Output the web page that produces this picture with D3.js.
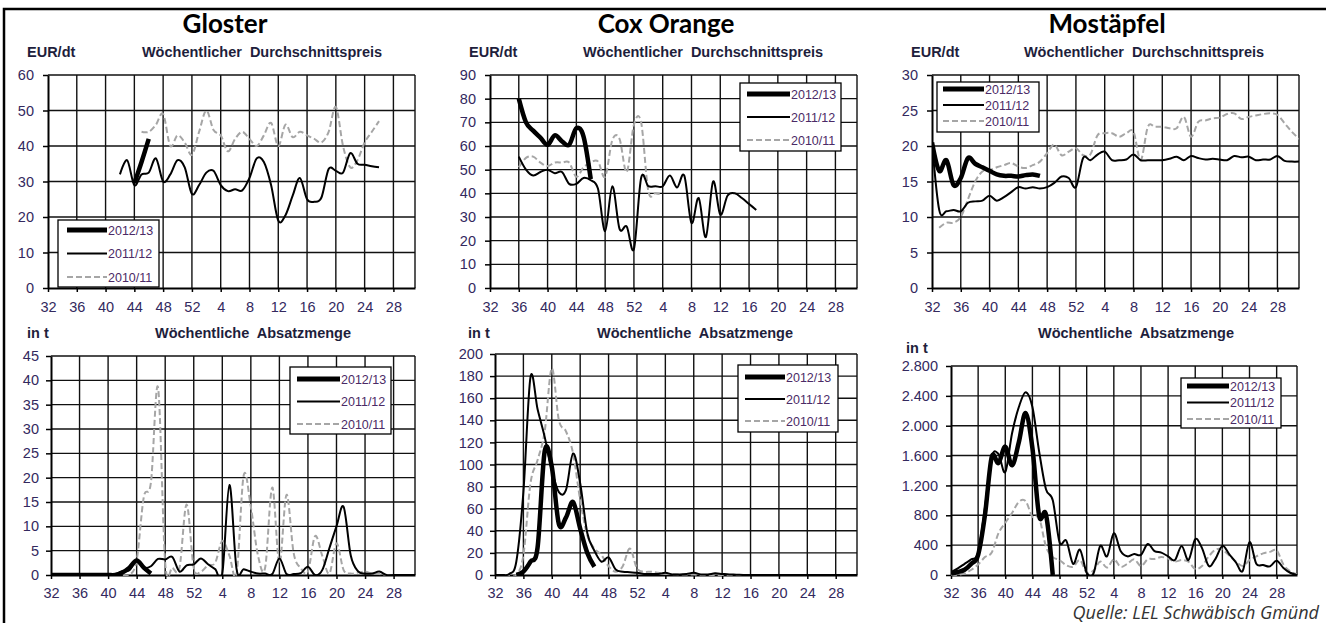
<!DOCTYPE html>
<html>
<head>
<meta charset="utf-8">
<script src="https://cdn.jsdelivr.net/npm/d3@7"></script>
<style>
    body { margin: 0; background: #fff; }
    text { font-family: "Liberation Sans", Arial, sans-serif; }
</style>
</head>
<body>
<script>
    // x axis: continuous week index, 53 = KW 1 of the next year
    var weekDomain = [32, 83]
    var weekTicks = [32, 36, 40, 44, 48, 52, 56, 60, 64, 68, 72, 76, 80]
    var weekLabels = ['32', '36', '40', '44', '48', '52', '4', '8', '12', '16', '20', '24', '28']
    var seasons = ['2012/13', '2011/12', '2010/11']
    var varieties = ['Gloster', 'Cox Orange', 'Mostäpfel']

    // Gloster, Preis EUR/dt (start week, weekly values)
    var glPreis1213 = [44, [29.5, 35.5, 42]]
    var glPreis1112 = [42, [32, 36, 29, 32, 32.5, 36.5, 30, 32, 36, 34, 26.5, 29, 32.5, 33, 29, 27.3, 27.8, 27.5, 31,
        36.5, 35.5, 29, 19, 20.5, 26, 31, 25, 24.3, 25.5, 33.5, 33, 32.5, 38, 35, 34.7, 34.3, 34]]
    var glPreis1011 = [45, [44, 44, 46, 49, 40, 43, 41, 37.5, 44, 50, 44.5, 43, 38.5, 42, 44, 42, 40, 43, 46.5, 40,
        46, 42.5, 44, 43, 42, 41, 44, 51, 40, 34, 36, 41, 44, 47]]

    // Gloster, Menge in t
    var glMenge1213 = [32, [0, 0, 0, 0, 0, 0, 0, 0, 0, 0, 0.5, 1.5, 3, 1.5, 0.3]]
    var glMenge1112 = [32, [0, 0, 0, 0, 0, 0, 0, 0, 0, 0.2, 0.8, 1, 3, 1.5, 1.8, 3.3, 3.2, 3.7, 0.7, 2, 2.2, 3.4, 2.2,
        1.2, 0.3, 18.5, 1.2, 1.2, 0.7, 0.3, 0.3, 0.2, 3.4, 0.2, 0.2, 0.4, 1.7, 0, 1, 5.5, 10, 14, 4, 0.8, 0.3, 0.3,
        0.7, 0, 0, 0, 0, 0]]
    var glMenge1011 = [32, [0, 0, 0, 0, 0, 0, 0, 0, 0, 0, 0, 0, 3, 16, 19, 38.5, 2.5, 1.5, 1.5, 14.5, 1.5, 0.7, 2,
        2.5, 7, 4, 0.3, 20.5, 14, 4, 1.5, 18, 2.4, 16.5, 4.5, 1.4, 0.7, 8, 4, 0.3, 6.5, 1, 0.3, 0.5, 0.7, 0.3, 0.2,
        0, 0, 0, 0, 0]]

    // Cox Orange, Preis EUR/dt
    var coxPreis1213 = [36, [80, 70, 66.5, 63.5, 60.5, 64.5, 62, 60.5, 67.5, 64, 46]]
    var coxPreis1112 = [36, [55.5, 50, 47.5, 49, 50, 48.5, 49, 44, 44, 46.5, 45.5, 42, 24, 43, 25, 26, 16.5, 46.5,
        43, 43, 43, 47.5, 42.5, 47.5, 27.5, 38, 21.5, 45, 31, 39, 40, 38, 35.5, 33]]
    var coxPreis1011 = [36, [51, 55, 55.5, 53, 51.5, 53, 53, 53, 47, 51, 53, 53.5, 47, 62.5, 63, 49, 69, 70, 41, 40,
        39.5]]

    // Cox Orange, Menge in t
    var coxMenge1213 = [35, [0, 3, 12, 25, 112, 98, 46, 52, 66, 42, 20, 7.5]]
    var coxMenge1112 = [32, [0, 0, 1, 12, 75, 179, 150, 125, 95, 75, 77, 110, 83, 38, 22, 12, 16, 5, 3, 2.5, 2, 1, 1,
        1, 2, 0.5, 0.5, 1, 2, 0.5, 0.5, 1.5, 1, 0.5, 0.3, 0, 0, 0, 0, 0, 0, 0, 0, 0, 0, 0, 0, 0, 0, 0, 0, 0]]
    var coxMenge1011 = [32, [0, 0, 0, 0, 18, 83, 104, 130, 187, 140, 130, 110, 68, 36, 24, 18, 8, 3, 8, 24, 6, 3, 3,
        2, 1, 0.8, 0.5, 0.5, 0.5, 0, 0, 0, 0, 0, 0, 0, 0, 0, 0, 0, 0, 0, 0, 0, 0, 0, 0, 0, 0, 0, 0, 0]]

    // Mostäpfel, Preis EUR/dt
    var mostPreis1213 = [32, [20.5, 16.5, 18, 14.5, 15.5, 18.3, 17.5, 17, 16.5, 16, 15.8, 15.8, 15.7, 15.9, 16, 15.8]]
    var mostPreis1112 = [32, [20.5, 11, 10.8, 11, 10.8, 12, 12.2, 12.3, 13, 12.3, 12.8, 13.5, 14.2, 14, 14.2, 14, 14.2,
        14.8, 15.7, 15.5, 14.2, 18.3, 18, 18.8, 19.2, 18, 18, 18.1, 18.8, 18, 18, 18, 18, 18.2, 18.5, 18, 18.6, 18.3,
        18.1, 18.2, 18.1, 18, 18.6, 18.4, 18.5, 18, 18.1, 18.1, 18.6, 17.9, 17.8, 17.8]]
    var mostPreis1011 = [33, [8.5, 9.2, 9.2, 10, 12.5, 15, 16.4, 16.6, 17, 17.3, 17.6, 17.1, 16.9, 17.3, 17.8, 19, 20.2,
        18.7, 19.2, 19.7, 18.7, 18.8, 21.5, 21.8, 21.8, 21.3, 21.8, 22, 18, 22.7, 22.7, 22.7, 22.5, 22.5, 24.1, 21.3,
        23.4, 23.6, 23.9, 24, 24.5, 24.6, 23.8, 24.1, 24.3, 24.5, 24.6, 24.4, 23.2, 22, 21]]

    // Mostäpfel, Menge in t
    var mostMenge1213 = [32, [20, 40, 70, 150, 270, 800, 1580, 1500, 1720, 1470, 1780, 2170, 1700, 790, 810, 0]]
    var mostMenge1112 = [32, [40, 90, 150, 210, 300, 900, 1580, 1620, 1380, 1900, 2250, 2450, 2250, 1650, 1150, 1000,
        440, 460, 150, 340, 30, 20, 390, 250, 560, 320, 250, 280, 270, 415, 320, 300, 250, 200, 390, 200, 480, 360,
        120, 220, 390, 280, 170, 55, 440, 150, 135, 115, 190, 95, 30, 0]]
    var mostMenge1011 = [32, [0, 5, 20, 70, 140, 240, 300, 560, 700, 830, 980, 990, 780, 760, 380, 240, 200, 130, 110,
        200, 30, 60, 180, 100, 210, 110, 150, 210, 120, 210, 215, 240, 220, 180, 200, 180, 80, 120, 250, 340, 340,
        260, 180, 120, 200, 250, 290, 310, 330, 140, 50, 10]]

    var lineStyles = [
        {width: 4.5, color: '#000', dash: null, legendWidth: 5},
        {width: 2, color: '#000', dash: null, legendWidth: 2},
        {width: 2, color: '#a6a6a6', dash: '6,3', legendWidth: 2}
    ]

    var deFormat = d3.formatLocale({decimal: ',', thousands: '.', grouping: [3], currency: ['', ' €']}).format(',')
    var tickColor = '#33295e'
    var labelColor = '#1e1e3c'

    var svg = d3.select('body').append('svg')
        .attr('width', 1326)
        .attr('height', 623)

    svg.append('path')
        .attr('d', 'M4,623V9H1326')
        .attr('fill', 'none')
        .attr('stroke', '#000')
        .attr('stroke-width', 2.5)

    var titleX = [225, 666, 1107]
    svg.selectAll('text.title')
        .data(varieties)
        .enter()
        .append('text')
        .attr('class', 'title')
        .attr('x', function (d, i) { return titleX[i] })
        .attr('y', 33)
        .attr('text-anchor', 'middle')
        .style('font-family', 'Lato, "Open Sans", sans-serif')
        .style('font-weight', 'bold')
        .style('font-size', '26px')
        .text(function (d) { return d })

    svg.append('text')
        .attr('x', 1319)
        .attr('y', 619)
        .attr('text-anchor', 'end')
        .style('font-family', '"Open Sans", sans-serif')
        .style('font-style', 'italic')
        .style('font-size', '18px')
        .attr('fill', '#333')
        .text('Quelle: LEL Schwäbisch Gmünd')

    var panels = [
        {left: 48, right: 415, top: 75, bottom: 288, max: 60, step: 10, labelGap: 14, pad: 9,
            unit: 'EUR/dt', unitX: 27, unitY: 57, sub: 'Wöchentlicher  Durchschnittspreis', subX: 262, subY: 57,
            series: [glPreis1213, glPreis1112, glPreis1011],
            legend: {x: 58, y: 220, w: 101, h: 67, x0: 67, x1: 107, y0: 230, dy: 23.5}},
        {left: 490, right: 857, top: 75, bottom: 288, max: 90, step: 10, labelGap: 14, pad: 9,
            unit: 'EUR/dt', unitX: 469, unitY: 57, sub: 'Wöchentlicher  Durchschnittspreis', subX: 703, subY: 57,
            series: [coxPreis1213, coxPreis1112, coxPreis1011],
            legend: {x: 740, y: 83, w: 101, h: 68, x0: 747, x1: 790, y0: 94, dy: 23}},
        {left: 932, right: 1299, top: 75, bottom: 288, max: 30, step: 5, labelGap: 14, pad: 9,
            unit: 'EUR/dt', unitX: 911, unitY: 57, sub: 'Wöchentlicher  Durchschnittspreis', subX: 1144, subY: 57,
            series: [mostPreis1213, mostPreis1112, mostPreis1011],
            legend: {x: 937, y: 82, w: 102, h: 50, x0: 943, x1: 984, y0: 89, dy: 16}},
        {left: 51, right: 415, top: 356, bottom: 575, max: 45, step: 5, labelGap: 13, pad: 7,
            unit: 'in t', unitX: 27, unitY: 338, sub: 'Wöchentliche  Absatzmenge', subX: 253, subY: 338,
            series: [glMenge1213, glMenge1112, glMenge1011],
            legend: {x: 290, y: 367, w: 101, h: 67, x0: 297, x1: 340, y0: 379, dy: 22.5}},
        {left: 495, right: 857, top: 354, bottom: 575, max: 200, step: 20, labelGap: 13, pad: 7,
            unit: 'in t', unitX: 468, unitY: 338, sub: 'Wöchentliche  Absatzmenge', subX: 695, subY: 338,
            series: [coxMenge1213, coxMenge1112, coxMenge1011],
            legend: {x: 738, y: 365, w: 100, h: 67, x0: 745, x1: 785, y0: 377, dy: 22}},
        {left: 951, right: 1297, top: 366, bottom: 575, max: 2800, step: 400, labelGap: 13, pad: 8, fmt: deFormat,
            unit: 'in t', unitX: 906, unitY: 353, sub: 'Wöchentliche  Absatzmenge', subX: 1136, subY: 338,
            series: [mostMenge1213, mostMenge1112, mostMenge1011],
            legend: {x: 1181, y: 378, w: 100, h: 50, x0: 1187, x1: 1229, y0: 386, dy: 16.5}}
    ]

    panels.forEach(drawPanel)

    function drawPanel(p, n) {
        var x = d3.scaleLinear().domain(weekDomain).range([p.left, p.right])
        var y = d3.scaleLinear().domain([0, p.max]).range([p.bottom, p.top])
        var yTicks = d3.range(0, p.max + p.step / 2, p.step)
        var g = svg.append('g')

        g.append('text')
            .attr('x', p.unitX)
            .attr('y', p.unitY)
            .attr('fill', labelColor)
            .style('font-weight', 'bold')
            .style('font-size', '14.5px')
            .text(p.unit)

        g.append('text')
            .attr('x', p.subX)
            .attr('y', p.subY)
            .attr('text-anchor', 'middle')
            .attr('fill', labelColor)
            .style('font-weight', 'bold')
            .style('font-size', '14.5px')
            .style('white-space', 'pre')
            .text(p.sub)

        // grid
        g.selectAll('line.h')
            .data(yTicks.slice(1))
            .enter()
            .append('line')
            .attr('x1', p.left).attr('x2', p.right)
            .attr('y1', function (d) { return y(d) })
            .attr('y2', function (d) { return y(d) })
            .attr('stroke', '#111').attr('stroke-width', 1.4)

        g.selectAll('line.v')
            .data(weekTicks.slice(1).concat([weekDomain[1]]))
            .enter()
            .append('line')
            .attr('y1', p.top).attr('y2', p.bottom)
            .attr('x1', function (d) { return x(d) })
            .attr('x2', function (d) { return x(d) })
            .attr('stroke', '#111').attr('stroke-width', 1.4)

        // axes
        var yAxis = g.append('g')
            .attr('transform', 'translate(' + p.left + ',0)')
            .call(d3.axisLeft(y).tickValues(yTicks).tickSize(5).tickSizeOuter(0).tickPadding(p.pad)
                .tickFormat(p.fmt || d3.format('d')))
        var xAxis = g.append('g')
            .attr('transform', 'translate(0,' + p.bottom + ')')
            .call(d3.axisBottom(x).tickValues(weekTicks).tickSize(4).tickSizeOuter(0)
                .tickPadding(p.labelGap - 4)
                .tickFormat(function (d, i) { return weekLabels[i] }))

        ;[yAxis, xAxis].forEach(function (a) {
            a.select('.domain').attr('stroke', '#000').attr('stroke-width', 2)
            a.selectAll('.tick line').attr('stroke', '#000').attr('stroke-width', 1.5)
            a.selectAll('.tick text')
                .attr('fill', tickColor)
                .style('font-family', '"Liberation Sans", Arial, sans-serif')
                .style('font-size', '14.5px')
        })

        // series
        var clipId = 'clip' + n
        svg.append('clipPath').attr('id', clipId)
            .append('rect')
            .attr('x', p.left).attr('y', p.top - 4)
            .attr('width', p.right - p.left).attr('height', p.bottom - p.top + 5)

        var line = d3.line()
            .x(function (d) { return x(d.w) })
            .y(function (d) { return y(d.v) })
            .curve(d3.curveCatmullRom.alpha(0))

        var order = [2, 1, 0]
        g.append('g')
            .attr('clip-path', 'url(#' + clipId + ')')
            .selectAll('path')
            .data(order)
            .enter()
            .append('path')
            .attr('d', function (k) {
                var s = p.series[k]
                return line(s[1].map(function (v, i) { return {w: s[0] + i, v: v} }))
            })
            .attr('fill', 'none')
            .attr('stroke', function (k) { return lineStyles[k].color })
            .attr('stroke-width', function (k) { return lineStyles[k].width })
            .attr('stroke-dasharray', function (k) { return lineStyles[k].dash })
            .attr('stroke-linejoin', 'round')

        // legend
        var L = p.legend
        var lg = g.append('g')
        lg.append('rect')
            .attr('x', L.x).attr('y', L.y).attr('width', L.w).attr('height', L.h)
            .attr('fill', '#fff').attr('stroke', '#000').attr('stroke-width', 1.3)
        var item = lg.selectAll('g.item')
            .data(seasons)
            .enter()
            .append('g')
            .attr('transform', function (d, i) { return 'translate(0,' + (L.y0 + i * L.dy) + ')' })
        item.append('line')
            .attr('x1', L.x0).attr('x2', L.x1)
            .attr('stroke', function (d, i) { return lineStyles[i].color })
            .attr('stroke-width', function (d, i) { return lineStyles[i].legendWidth })
            .attr('stroke-dasharray', function (d, i) { return lineStyles[i].dash })
        item.append('text')
            .attr('x', L.x1 + 1)
            .attr('dy', '0.36em')
            .attr('fill', '#4b2a66')
            .style('font-size', '12.5px')
            .text(function (d) { return d })
    }
</script>
</body>
</html>
